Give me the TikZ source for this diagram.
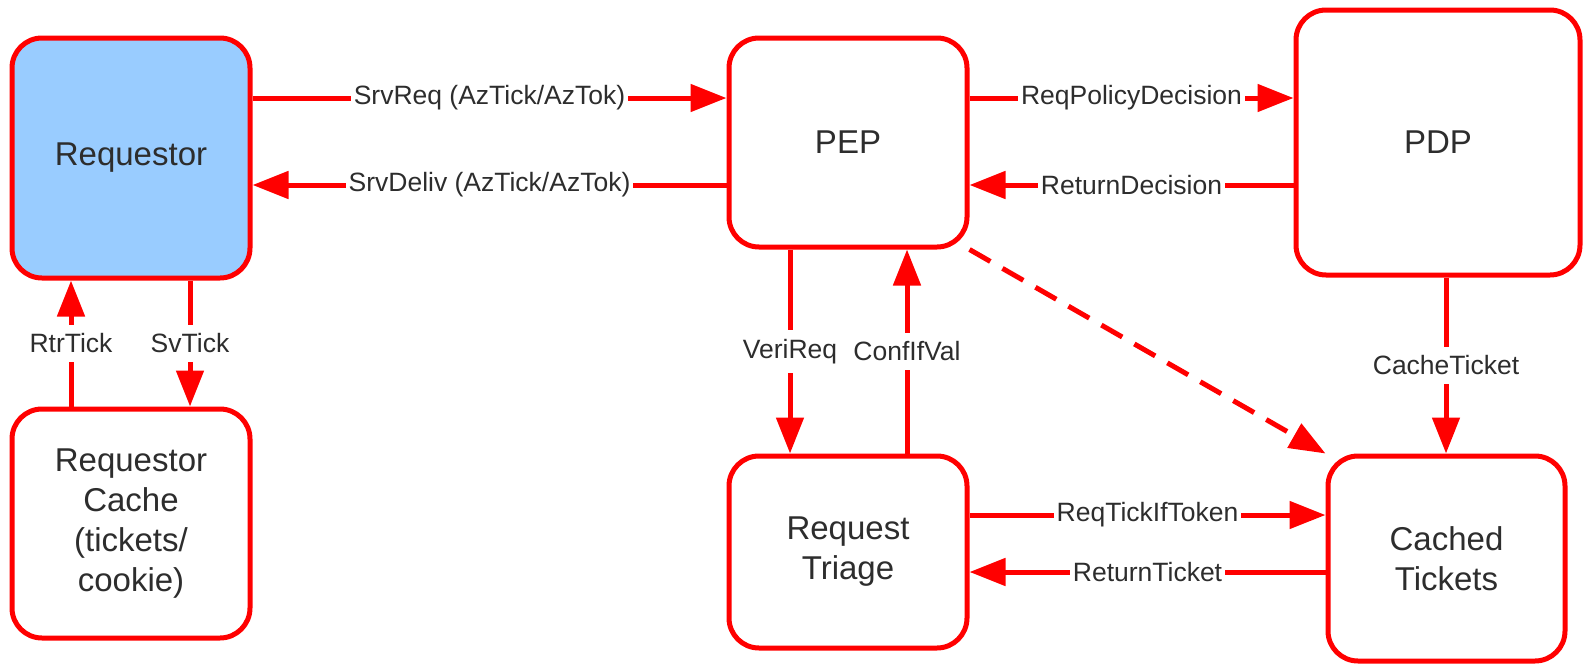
\documentclass[tikz,border=0pt]{standalone}
\usepackage{fontspec}
\setmainfont{Liberation Sans}
\usetikzlibrary{arrows.meta}
\definecolor{lnred}{RGB}{255,0,0}
\definecolor{reqblue}{RGB}{153,204,255}
\definecolor{txt}{RGB}{45,45,45}
\begin{document}
\begin{tikzpicture}[x=1pt,y=-1pt,
  box/.style={draw=lnred, fill=white, line width=5pt, rounded corners=30pt, align=center,
    font=\fontsize{33}{40}\selectfont, text=txt, inner sep=0pt},
  conn/.style={draw=lnred, line width=5pt, -{Triangle[length=36pt,width=27pt]}},
  lbl/.style={fill=white, text=txt, font=\fontsize{26.5}{30}\selectfont, inner xsep=3pt, inner ysep=9pt}]
\useasboundingbox[fill=white] (0,0) rectangle (1583,664);

\node[box, fill=reqblue, minimum width=238pt, minimum height=240pt] (req) at (131,158) {Requestor};
\node[box, minimum width=238pt, minimum height=229pt] (rc) at (131,523.5) {Requestor\\Cache\\(tickets/\\cookie)};
\node[box, minimum width=238pt, minimum height=209pt] (pep) at (848,142.5) {PEP};
\node[box, minimum width=284pt, minimum height=265pt] (pdp) at (1438,142.5) {PDP};
\node[box, minimum width=238pt, minimum height=192pt] (tri) at (848,552) {Request\\Triage};
\node[box, minimum width=237pt, minimum height=205pt] (ct) at (1446.5,558.5) {Cached\\Tickets};

% horizontal connectors
\draw[conn] (req.east |- 0,98) -- node[lbl]{SrvReq (AzTick/AzTok)} (pep.west |- 0,98);
\draw[conn] (pep.west |- 0,185) -- node[lbl]{SrvDeliv (AzTick/AzTok)} (req.east |- 0,185);
\draw[conn] (pep.east |- 0,98) -- node[lbl]{ReqPolicyDecision} (pdp.west |- 0,98);
\draw[conn] (pdp.west |- 0,185) -- node[lbl]{ReturnDecision} (pep.east |- 0,185);
\draw[conn] (tri.east |- 0,515) -- node[lbl]{ReqTickIfToken} (ct.west |- 0,515);
\draw[conn] (ct.west |- 0,572) -- node[lbl]{ReturnTicket} (tri.east |- 0,572);

% vertical connectors
\draw[conn] (rc.north -| 71,0) -- node[lbl]{RtrTick} (req.south -| 71,0);
\draw[conn] (req.south -| 190,0) -- node[lbl]{SvTick} (rc.north -| 190,0);
\draw[conn] (pep.south -| 790,0) -- node[lbl]{VeriReq} (tri.north -| 790,0);
\draw[conn] (tri.north -| 907,0) -- node[lbl]{ConfIfVal} (pep.south -| 907,0);
\draw[conn] (pdp.south -| 1446,0) -- node[lbl]{CacheTicket} (ct.north -| 1446,0);

% dashed connector
\draw[conn, dash pattern=on 24pt off 14pt] (pep.south east) -- (ct.north west);
\end{tikzpicture}
\end{document}
